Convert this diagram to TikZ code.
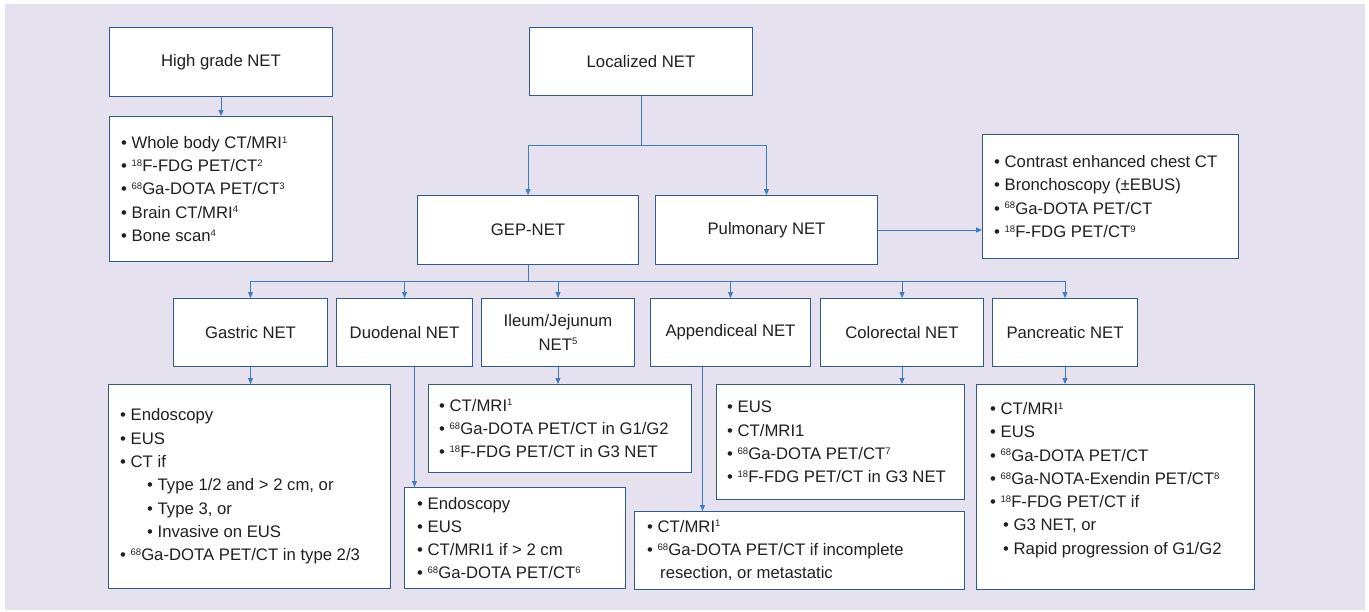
\documentclass[tikz,border=0pt]{standalone}
\usepackage{fontspec}
\setmainfont{Liberation Sans}
\usetikzlibrary{arrows.meta}
\definecolor{bg}{HTML}{E6E1EF}
\definecolor{edge}{HTML}{2F5A8E}
\definecolor{link}{HTML}{3F7BC0}
\definecolor{ink}{HTML}{231F20}
\newcommand\fs{\fontsize{16.7}{23.3}\selectfont}
\newcommand\bul{\textbullet\ }
\newcommand\sups[1]{\raisebox{5.3pt}{\fontsize{9.5}{9.5}\selectfont #1}}
\tikzset{
  box/.style={draw=edge, line width=1pt, fill=white, anchor=north west,
    inner sep=0pt, text=ink, font=\fs},
  titlebox/.style={box, align=center},
  ltext/.style={anchor=west, align=left, inner sep=0pt, text=ink, font=\fs},
  conn/.style={draw=link, line width=1pt},
  arr/.style={conn, -{Triangle[length=6pt,width=5pt]}}
}
\begin{document}
\begin{tikzpicture}[x=1pt,y=-1pt]
\fill[white] (0,0) rectangle (1369,611);
\useasboundingbox (0,0) rectangle (1369,611);
\fill[bg] (5,4) rectangle (1365,610);
\coordinate (ysplitA) at (0,145);
\coordinate (ysplitB) at (0,281);

% top row
\node[titlebox, minimum width=223pt, minimum height=69pt] (hg) at (109,27) {High grade NET};
\node[titlebox, minimum width=223pt, minimum height=68pt] (loc) at (529,27) {Localized NET};
\node[box, minimum width=223pt, minimum height=145pt] (hgd) at (109,116) {};
\node[ltext] at ([xshift=12pt]hgd.west)
 {\bul Whole body CT/MRI\sups{1}\\
  \bul \sups{18}F-FDG PET/CT\sups{2}\\
  \bul \sups{68}Ga-DOTA PET/CT\sups{3}\\
  \bul Brain CT/MRI\sups{4}\\
  \bul Bone scan\sups{4}};
\node[titlebox, minimum width=221pt, minimum height=69pt] (gep) at (417,195) {GEP-NET};
\node[titlebox, minimum width=222pt, minimum height=69pt] (pul) at (655,195) {Pulmonary NET};
\node[box, minimum width=256pt, minimum height=124pt] (puld) at (982,134) {};
\node[ltext] at ([xshift=12pt]puld.west)
 {\bul Contrast enhanced chest CT\\
  \bul Bronchoscopy (±EBUS)\\
  \bul \sups{68}Ga-DOTA PET/CT\\
  \bul \sups{18}F-FDG PET/CT\sups{9}};

% organ row
\node[titlebox, minimum width=154pt, minimum height=68pt] (gas) at (173,298) {Gastric NET};
\node[titlebox, minimum width=136pt, minimum height=68pt] (duo) at (336,298) {Duodenal NET};
\node[titlebox, minimum width=153pt, minimum height=68pt] (ile) at (481,298) {Ileum/Jejunum\\NET\sups{5}};
\node[titlebox, minimum width=160pt, minimum height=68pt] (app) at (650,298) {Appendiceal NET};
\node[titlebox, minimum width=163pt, minimum height=68pt] (col) at (820,298) {Colorectal NET};
\node[titlebox, minimum width=145pt, minimum height=68pt] (pan) at (992,298) {Pancreatic NET};

% detail row
\node[box, minimum width=282pt, minimum height=204pt] (gasd) at (108,384) {};
\node[ltext] at ([xshift=12pt]gasd.west)
 {\bul Endoscopy\\
  \bul EUS\\
  \bul CT if\\
  \hspace*{27pt}\bul Type 1/2 and > 2 cm, or\\
  \hspace*{27pt}\bul Type 3, or\\
  \hspace*{27pt}\bul Invasive on EUS\\
  \bul \sups{68}Ga-DOTA PET/CT in type 2/3};
\node[box, minimum width=263pt, minimum height=88pt] (ild) at (428,384) {};
\node[ltext] at ([xshift=11pt]ild.west)
 {\bul CT/MRI\sups{1}\\
  \bul \sups{68}Ga-DOTA PET/CT in G1/G2\\
  \bul \sups{18}F-FDG PET/CT in G3 NET};
\node[box, minimum width=221pt, minimum height=101pt] (dud) at (404,487) {};
\node[ltext] at ([xshift=13pt]dud.west)
 {\bul Endoscopy\\
  \bul EUS\\
  \bul CT/MRI1 if > 2 cm\\
  \bul \sups{68}Ga-DOTA PET/CT\sups{6}};
\node[box, minimum width=330pt, minimum height=78pt] (apd) at (634,511) {};
\node[ltext] at ([xshift=13pt]apd.west)
 {\bul CT/MRI\sups{1}\\
  \bul \sups{68}Ga-DOTA PET/CT if incomplete\\
  \hspace*{13pt}resection, or metastatic};
\node[box, minimum width=248pt, minimum height=115pt] (cod) at (716,384) {};
\node[ltext] at ([xshift=11pt]cod.west)
 {\bul EUS\\
  \bul CT/MRI1\\
  \bul \sups{68}Ga-DOTA PET/CT\sups{7}\\
  \bul \sups{18}F-FDG PET/CT in G3 NET};
\node[box, minimum width=278pt, minimum height=205pt] (pad) at (976,384) {};
\node[ltext] at ([xshift=14pt,yshift=7pt]pad.west)
 {\bul CT/MRI\sups{1}\\
  \bul EUS\\
  \bul \sups{68}Ga-DOTA PET/CT\\
  \bul \sups{68}Ga-NOTA-Exendin PET/CT\sups{8}\\
  \bul \sups{18}F-FDG PET/CT if\\
  \hspace*{13pt}\bul G3 NET, or\\
  \hspace*{13pt}\bul Rapid progression of G1/G2};

% connectors
\draw[arr] (hg.south) -- (hgd.north);
\draw[arr] (loc.south) -- (loc.south |- ysplitA) -| (gep.north);
\draw[arr] (loc.south) -- (loc.south |- ysplitA) -| (pul.north);
\draw[arr] (pul.east) -- (pul.east -| puld.west);
\foreach \t in {gas,duo,ile,app,col,pan}
  \draw[arr] (gep.south) -- (gep.south |- ysplitB) -| (\t.north);
\draw[arr] (gas.south) -- (gas.south |- gasd.north);
\draw[arr] ([xshift=10pt]duo.south) -- ([xshift=10pt]duo.south |- dud.north);
\draw[arr] (ile.south) -- (ile.south |- ild.north);
\draw[arr] ([xshift=-28pt]app.south) -- ([xshift=-28pt]app.south |- apd.north);
\draw[arr] (col.south) -- (col.south |- cod.north);
\draw[arr] (pan.south) -- (pan.south |- pad.north);
\end{tikzpicture}
\end{document}
